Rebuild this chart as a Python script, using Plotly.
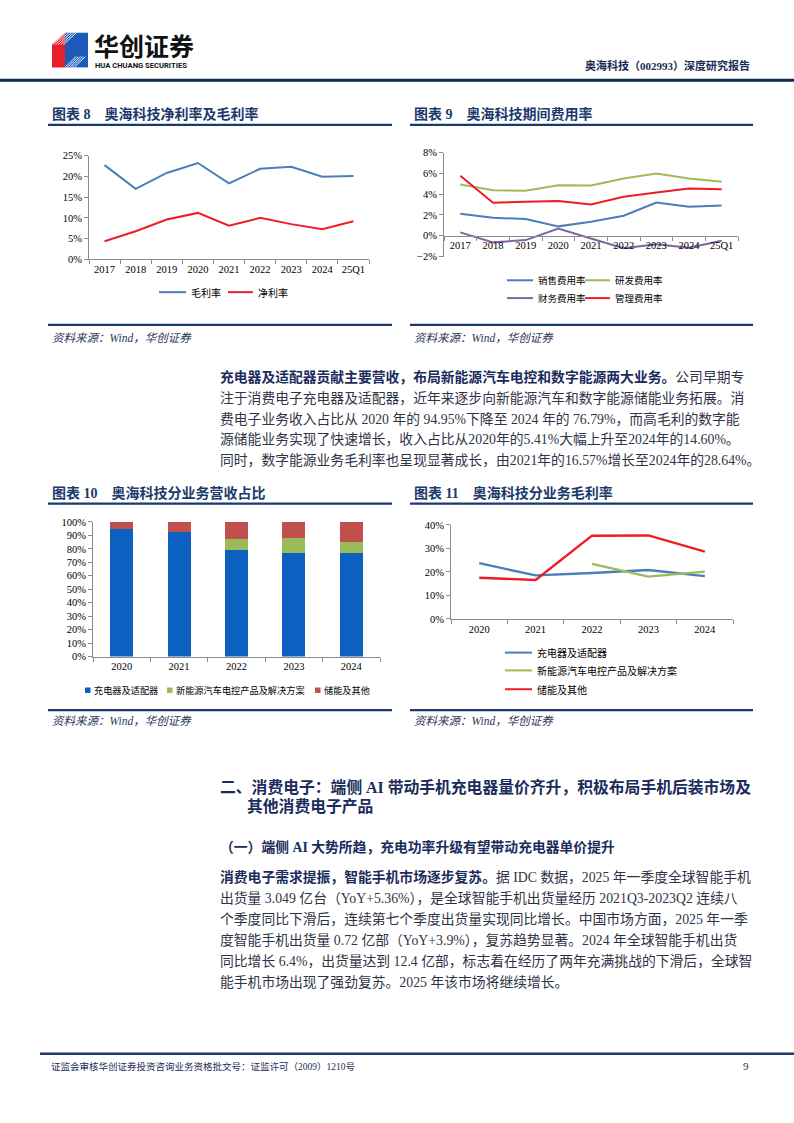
import plotly.graph_objects as go

W, H = 794, 1123
def px(x): return x / W
def py(y): return 1 - y / H

# ---------------- data ----------------
years8 = ["2017", "2018", "2019", "2020", "2021", "2022", "2023", "2024", "25Q1"]
gross_margin = [22.7, 17.0, 20.8, 23.2, 18.3, 21.8, 22.3, 19.9, 20.1]
net_margin = [4.4, 6.8, 9.6, 11.2, 8.1, 10.0, 8.5, 7.3, 9.2]

sales_rate = [2.11, 1.73, 1.60, 0.90, 1.34, 1.92, 3.20, 2.78, 2.91]
rd_rate = [4.93, 4.38, 4.32, 4.86, 4.83, 5.50, 5.98, 5.50, 5.20]
fin_rate = [0.32, -0.64, -0.42, 0.70, -0.26, -1.20, -0.83, -1.15, -0.48]
admin_rate = [5.76, 3.17, 3.26, 3.33, 3.00, 3.74, 4.16, 4.54, 4.48]

years10 = ["2020", "2021", "2022", "2023", "2024"]
rev_charger = [94.95, 92.6, 78.9, 76.8, 76.79]
rev_nev = [0, 0, 8.4, 10.9, 8.61]
rev_storage = [5.05, 7.4, 12.7, 12.3, 14.60]

gm_charger = [23.7, 18.5, 19.5, 20.8, 18.2]
gm_nev = [None, None, 23.4, 18.0, 20.1]
gm_storage = [17.5, 16.57, 35.4, 35.5, 28.64]

# ---------------- styles ----------------
NAVY = "#1B3A6B"
SERIF = "Liberation Serif, Noto Sans CJK SC"
CJK = "Noto Sans CJK SC"
AX = "#8C8C8C"
BLUE = "#4A7EBB"
RED = "#EE1C25"
GREEN = "#9BBB59"
PURPLE = "#8064A2"
BAR_BLUE = "#0B60C0"
BAR_GREEN = "#9BBB59"
BAR_RED = "#C0504D"

fig = go.Figure()

# chart 8
fig.add_trace(go.Scatter(x=years8, y=gross_margin, mode="lines", line=dict(color=BLUE, width=2),
                         xaxis="x", yaxis="y", showlegend=False))
fig.add_trace(go.Scatter(x=years8, y=net_margin, mode="lines", line=dict(color=RED, width=2),
                         xaxis="x", yaxis="y", showlegend=False))
# chart 9
for vals, col in [(sales_rate, BLUE), (rd_rate, GREEN), (fin_rate, PURPLE), (admin_rate, RED)]:
    fig.add_trace(go.Scatter(x=years8, y=vals, mode="lines", line=dict(color=col, width=2),
                             xaxis="x2", yaxis="y2", showlegend=False))
# chart 10
for vals, col in [(rev_charger, BAR_BLUE), (rev_nev, BAR_GREEN), (rev_storage, BAR_RED)]:
    fig.add_trace(go.Bar(x=years10, y=vals, marker=dict(color=col, line=dict(width=0)), width=0.4,
                         xaxis="x3", yaxis="y3", showlegend=False))
# chart 11
for vals, col in [(gm_charger, BLUE), (gm_nev, GREEN), (gm_storage, RED)]:
    fig.add_trace(go.Scatter(x=years10, y=vals, mode="lines", line=dict(color=col, width=2.4),
                             xaxis="x4", yaxis="y4", showlegend=False, connectgaps=False))

tickfont = dict(family=SERIF, size=10.5, color="#000000")

def xax(x0, x1, n, **kw):
    d = dict(domain=[px(x0), px(x1)], type="category", range=[-0.5, n - 0.5], showline=True,
             linecolor=AX, linewidth=1, ticks="outside", tickson="boundaries", ticklen=4,
             tickcolor=AX, tickfont=tickfont, tickangle=0, showgrid=False, zeroline=False,
             fixedrange=True)
    d.update(kw)
    return d

def yax(y_bottom, y_top, rng, dtick, anchor):
    return dict(domain=[py(y_bottom), py(y_top)], range=rng, dtick=dtick, ticksuffix="%",
                showline=True, linecolor=AX, linewidth=1, ticks="outside", ticklen=4,
                tickcolor=AX, tickfont=tickfont, showgrid=False, zeroline=False,
                anchor=anchor, fixedrange=True)

zero9 = 149 + (8 / 10) * (254 - 149)

fig.update_layout(
    width=W, height=H, margin=dict(l=0, r=0, t=0, b=0),
    paper_bgcolor="white", plot_bgcolor="white", barmode="stack", bargap=0.6,
    xaxis=xax(89, 369, 9, anchor="y"),
    yaxis=yax(257, 152, [0, 25], 5, "x"),
    xaxis2=xax(444, 738, 9, anchor="free", position=py(zero9)),
    yaxis2=yax(254, 149, [-2, 8], 2, "x2"),
    xaxis3=xax(93, 380, 5, anchor="y3"),
    yaxis3=yax(658, 522, [0, 100], 10, "x3"),
    xaxis4=xax(451, 733, 5, anchor="y4"),
    yaxis4=yax(620, 525, [0, 40], 10, "x4"),
)

shapes = []
annotations = []

def hline(x0, x1, y, color=NAVY, width=2):
    shapes.append(dict(type="line", xref="paper", yref="paper", x0=px(x0), x1=px(x1),
                       y0=py(y), y1=py(y), line=dict(color=color, width=width)))

def text(x, y, s, size=14, color="#333333", family=SERIF, xanchor="left", bold=False, italic=False):
    if bold:
        s = "<b>" + s + "</b>"
    if italic:
        s = "<i>" + s + "</i>"
    annotations.append(dict(xref="paper", yref="paper", x=px(x), y=py(y), text=s, showarrow=False,
                            xanchor=xanchor, yanchor="middle",
                            font=dict(size=size, color=color, family=family)))

def leg_line(x0, x1, y, color, label, size=9.5, width=2):
    hline(x0, x1, y, color=color, width=width)
    text(x1 + 3, y, label, size=size, color="#000000", family=CJK)

def leg_box(x, y, color, label, size=9.5):
    shapes.append(dict(type="rect", xref="paper", yref="paper", x0=px(x), x1=px(x + 5.5),
                       y0=py(y + 2.75), y1=py(y - 2.75), fillcolor=color, line=dict(width=0)))
    text(x + 7, y, label, size=size, color="#000000", family=CJK)

# ---------- header ----------
# logo
shapes.append(dict(type="path", xref="paper", yref="paper",
                   path=f"M {px(52)},{py(40)} L {px(65)},{py(28)} L {px(65)},{py(63)} L {px(52)},{py(63)} Z",
                   fillcolor="#E4202B", line=dict(width=0)))
shapes.append(dict(type="path", xref="paper", yref="paper",
                   path=f"M {px(65)},{py(28)} L {px(88)},{py(28)} L {px(88)},{py(63)} L {px(65)},{py(63)} Z",
                   fillcolor="#1E5BB8", line=dict(width=0)))
for k in range(5):
    off = k * 2.6
    shapes.append(dict(type="line", xref="paper", yref="paper", x0=px(53 + off), y0=py(40),
                       x1=px(66 + off), y1=py(28), line=dict(color="white", width=0.9)))
    shapes.append(dict(type="line", xref="paper", yref="paper", x0=px(65 + off * 0.9), y0=py(63),
                       x1=px(76 + off * 0.9), y1=py(52), line=dict(color="white", width=0.9)))
text(92, 40.5, "华创证券", size=25, color="#111111", family=CJK, bold=True)
text(93, 61.5, "HUA CHUANG SECURITIES", size=7.6, color="#111111", family="Roboto", bold=True)
text(752, 61, "奥海科技（002993）深度研究报告", size=11, color="#1A2B55", family=SERIF, xanchor="right", bold=True)
shapes.append(dict(type="rect", xref="paper", yref="paper", x0=0, x1=1, y0=py(77.5), y1=py(74.5),
                   fillcolor="#0E2A50", line=dict(width=0)))

# ---------- chart titles / sources ----------
for x0, x1, ytitle, yline, ysl, yst, title in [
    (48, 392, 110, 121, 323, 336, "图表 8　奥海科技净利率及毛利率"),
    (410, 753, 110, 121, 323, 336, "图表 9　奥海科技期间费用率"),
    (48, 392, 493, 503.5, 712, 723, "图表 10　奥海科技分业务营收占比"),
    (410, 753, 493, 503.5, 712, 723, "图表 11　奥海科技分业务毛利率"),
]:
    text(x0 + 2, ytitle, title, size=14, color=NAVY, family=SERIF, bold=True)
    hline(x0, x1, yline, width=2.2)
    hline(x0, x1, ysl, width=2.2)
    text(x0 + 2, yst, "资料来源：Wind，华创证券", size=11.5, color="#2A3656", family=SERIF, italic=True)

# ---------- legends ----------
leg_line(159, 186, 290, BLUE, "毛利率", size=10)
leg_line(228, 253, 290, RED, "净利率", size=10)

leg_line(507, 533, 278, BLUE, "销售费用率")
leg_line(585, 610, 278, GREEN, "研发费用率")
leg_line(507, 533, 296, PURPLE, "财务费用率")
leg_line(585, 610, 296, RED, "管理费用率")

leg_box(85, 692, BAR_BLUE, "充电器及适配器", size=9.2)
leg_box(167, 692, BAR_GREEN, "新能源汽车电控产品及解决方案", size=9.2)
leg_box(315, 692, BAR_RED, "储能及其他", size=9.2)

leg_line(505, 532, 654, BLUE, "充电器及适配器", size=10)
leg_line(505, 532, 672, GREEN, "新能源汽车电控产品及解决方案", size=10)
leg_line(505, 532, 691, RED, "储能及其他", size=10)

# ---------- body text ----------
BODY = "#2F3346"
BOLDC = "#1A2B5C"
def b(s):
    return f"<span style='color:{BOLDC}'><b>{s}</b></span>"

para1 = [
    b("充电器及适配器贡献主要营收，布局新能源汽车电控和数字能源两大业务。") + "公司早期专",
    "注于消费电子充电器及适配器，近年来逐步向新能源汽车和数字能源储能业务拓展。消",
    "费电子业务收入占比从 2020 年的 94.95%下降至 2024 年的 76.79%，而高毛利的数字能",
    "源储能业务实现了快速增长，收入占比从2020年的5.41%大幅上升至2024年的14.60%。",
    "同时，数字能源业务毛利率也呈现显著成长，由2021年的16.57%增长至2024年的28.64%。",
]
for i, s in enumerate(para1):
    text(218, 376 + i * 20.8, s, size=13.8, color=BODY)

text(218, 790, "二、消费电子：端侧 AI 带动手机充电器量价齐升，积极布局手机后装市场及",
     size=15.8, color=BOLDC, bold=True)
text(245, 809.5, "其他消费电子产品", size=15.8, color=BOLDC, bold=True)
text(218, 850, "（一）端侧 AI 大势所趋，充电功率升级有望带动充电器单价提升", size=13.8, color=BOLDC, bold=True)

para2 = [
    b("消费电子需求提振，智能手机市场逐步复苏。") + "据 IDC 数据，2025 年一季度全球智能手机",
    "出货量 3.049 亿台（YoY+5.36%），是全球智能手机出货量经历 2021Q3-2023Q2 连续八",
    "个季度同比下滑后，连续第七个季度出货量实现同比增长。中国市场方面，2025 年一季",
    "度智能手机出货量 0.72 亿部（YoY+3.9%），复苏趋势显著。2024 年全球智能手机出货",
    "同比增长 6.4%，出货量达到 12.4 亿部，标志着在经历了两年充满挑战的下滑后，全球智",
    "能手机市场出现了强劲复苏。2025 年该市场将继续增长。",
]
for i, s in enumerate(para2):
    text(218, 881 + i * 21.2, s, size=13.8, color=BODY)

# ---------- footer ----------
hline(40, 794, 1059, color="#1F3864", width=2.5)
text(49, 1072, "证监会审核华创证券投资咨询业务资格批文号：证监许可（2009）1210号", size=9.5,
     color="#1A2B55", family=SERIF)
text(751, 1072, "9", size=11, color="#1A2B55", family=SERIF, xanchor="right")

fig.update_layout(shapes=shapes, annotations=annotations)

fig.write_html("out.html", config={"displayModeBar": False},
               post_script="document.body.style.margin='0';document.body.style.padding='0';")
